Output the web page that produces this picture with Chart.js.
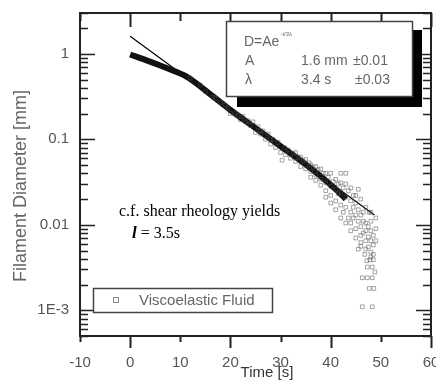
<!DOCTYPE html>
<html lang="en">
<head>
    <meta charset="UTF-8">
    <title>Filament Diameter vs Time</title>
    <script src="https://cdn.jsdelivr.net/npm/chart.js@4.4.0/dist/chart.umd.min.js"></script>
    <style>
        body { margin: 0; background: #fff; }
    </style>
</head>
<body>
    <canvas id="chart" width="436" height="381"></canvas>
    <script>

// dense part of the measured curve (reads as a thick black line)
const coreT = [0, 3, 6, 9, 11, 13, 16, 20, 25, 30, 35, 38, 41, 43];
const coreD = [0.98, 0.85, 0.73, 0.62, 0.55, 0.46, 0.335, 0.22, 0.135, 0.083, 0.051, 0.037, 0.026, 0.02];

// exponential fit D = A e^(-t/3λ), a straight line on the log axis
const fitT = [0, 48.7];
const fitD = [1.6, 0.013];

// scattered squares around / below the curve
const cloudT = [18, 19, 20, 21, 22, 22.5, 23, 24, 24.5, 25, 25.5, 26, 26.5, 27, 27.5, 28, 28.5, 29, 29.5, 30,
    30.3, 30.8, 31, 31.5, 32, 32.5, 33, 33.5, 34, 34.5, 35, 35.7, 36, 36.5, 37, 37.5, 38, 38.5,
    39, 39, 39.5, 40, 40, 40, 40.5, 41, 41, 41.5, 41.5, 42, 42, 42, 42.5, 42.5, 43, 43, 43,
    43.5, 43.5, 44, 44, 44, 44.5, 44.5, 44.5, 45, 45, 45, 45.5, 45.5, 45.5, 46, 46, 46,
    46.5, 46.5, 46.5, 47, 47, 47, 47.5, 47.5, 47.5, 48, 48, 48, 48, 48.5, 48.5, 48.5, 48.5,
    47.8, 47.3, 48.3, 46.3, 47.3, 48.3, 47.7, 48.6, 46.3, 48.3, 46, 47.7,
    33, 34, 35, 36, 36, 37, 37, 38, 38, 39, 39, 40, 41, 41, 42, 42, 43, 43, 44, 44,
    45, 45, 46, 46, 47, 47, 48, 48, 49, 49, 49, 48.8, 45.5, 46.8, 47.2,
    12, 14, 15, 16.5, 17, 19.5, 21.5, 23.5, 26, 28];
const cloudD = [0.27, 0.25, 0.2, 0.2, 0.17, 0.185, 0.16, 0.145, 0.16, 0.12, 0.14, 0.115, 0.125, 0.1, 0.115, 0.088, 0.1, 0.08, 0.092, 0.07,
    0.057, 0.08, 0.066, 0.075, 0.06, 0.068, 0.055, 0.062, 0.048, 0.056, 0.045, 0.053, 0.042, 0.047, 0.038, 0.044, 0.034, 0.04,
    0.031, 0.025, 0.036, 0.04, 0.028, 0.022, 0.032, 0.026, 0.019, 0.03, 0.023, 0.04, 0.024, 0.017, 0.027, 0.014, 0.04, 0.021, 0.016,
    0.025, 0.012, 0.019, 0.014, 0.0105, 0.022, 0.016, 0.012, 0.018, 0.013, 0.009, 0.026, 0.015, 0.011, 0.013, 0.0095, 0.0075,
    0.011, 0.008, 0.014, 0.0105, 0.0085, 0.0065, 0.0095, 0.0072, 0.0055, 0.011, 0.0085, 0.0065, 0.0048, 0.0075, 0.0058, 0.0045, 0.0039,
    0.0039, 0.0032, 0.0032, 0.0024, 0.0024, 0.0024, 0.0018, 0.0018, 0.0011, 0.0011, 0.0056, 0.014,
    0.07, 0.062, 0.058, 0.05, 0.036, 0.048, 0.033, 0.045, 0.029, 0.04, 0.021, 0.018, 0.034, 0.015, 0.031, 0.012, 0.03, 0.0105, 0.027, 0.0085,
    0.022, 0.007, 0.02, 0.0062, 0.016, 0.0052, 0.014, 0.0042, 0.012, 0.009, 0.0065, 0.0028, 0.0052, 0.0045, 0.0038,
    0.52, 0.43, 0.36, 0.31, 0.3, 0.235, 0.19, 0.165, 0.125, 0.1];

const xTicks = [-10, 0, 10, 20, 30, 40, 50, 60];
const yTicks = [0.001, 0.01, 0.1, 1];
const yTickLabels = ['1E-3', '0.01', '0.1', '1'];

const toPts = (xs, ys) => xs.map((x, i) => ({ x: x, y: ys[i] }));

const SANS = '"Liberation Sans", Arial, sans-serif';
const SERIF = '"Liberation Serif", "Times New Roman", serif';

// frame, tick marks, boxes and free text
const decorations = {
    id: 'decorations',
    afterDraw(chart) {
        const ctx = chart.ctx;
        const a = chart.chartArea;
        const xs = chart.scales.x;
        const ys = chart.scales.y;
        ctx.save();
        ctx.strokeStyle = '#222';
        ctx.lineWidth = 2;
        ctx.strokeRect(a.left, a.top, a.right - a.left, a.bottom - a.top);

        // x ticks: outward at bottom, inward at top
        ctx.lineWidth = 2;
        xTicks.forEach(v => {
            const px = Math.round(xs.getPixelForValue(v)) + 0.5;
            const len = v % 20 === 0 ? 12 : 6;
            ctx.beginPath();
            ctx.moveTo(px, a.bottom); ctx.lineTo(px, a.bottom + len);
            ctx.moveTo(px, a.top); ctx.lineTo(px, a.top + len + 2);
            ctx.stroke();
        });

        // y ticks: log minor ticks, inward on both sides
        ctx.lineWidth = 1.6;
        [1e-4, 1e-3, 1e-2, 1e-1, 1].forEach(d => {
            for (let m = 1; m <= 9; m++) {
                const v = m * d;
                if (v < ys.min || v > ys.max) continue;
                const py = Math.round(ys.getPixelForValue(v)) + 0.5;
                const len = m === 1 ? 15 : 8;
                ctx.beginPath();
                ctx.moveTo(a.left, py); ctx.lineTo(a.left + len, py);
                ctx.moveTo(a.right, py); ctx.lineTo(a.right - len, py);
                ctx.stroke();
            }
        });

        // fit box with black drop shadow
        ctx.fillStyle = '#000';
        ctx.fillRect(237, 30, 185, 77);
        ctx.fillStyle = '#fff';
        ctx.fillRect(226, 21, 186, 76);
        ctx.strokeStyle = '#444';
        ctx.lineWidth = 1.5;
        ctx.strokeRect(226.5, 21.5, 186, 75);

        ctx.fillStyle = '#666';
        ctx.textBaseline = 'middle';
        ctx.textAlign = 'left';
        ctx.font = '14px ' + SANS;
        ctx.fillText('D=Ae', 244, 42);
        const w = ctx.measureText('D=Ae').width;
        ctx.font = '6px ' + SANS;
        ctx.fillText('-t/3λ', 244 + w + 1, 34);
        ctx.font = '14px ' + SANS;
        ctx.fillText('A', 245, 61);
        ctx.fillText('1.6 mm', 301, 61);
        ctx.fillText('±0.01', 353, 61);
        ctx.fillText('λ', 245, 80);
        ctx.fillText('3.4 s', 301, 80);
        ctx.fillText('±0.03', 355, 80);

        // legend box
        ctx.fillStyle = '#fff';
        ctx.fillRect(93, 288, 180, 25);
        ctx.strokeStyle = '#444';
        ctx.lineWidth = 1.5;
        ctx.strokeRect(93.5, 288.5, 179, 24);
        ctx.strokeStyle = '#888';
        ctx.lineWidth = 1;
        ctx.strokeRect(113.5, 297.5, 5, 5);
        ctx.fillStyle = '#666';
        ctx.font = '15px ' + SANS;
        ctx.fillText('Viscoelastic Fluid', 139, 301);

        // annotation
        ctx.fillStyle = '#000';
        ctx.font = '16px ' + SERIF;
        ctx.fillText('c.f. shear rheology yields', 119, 212);
        ctx.font = 'italic bold 17px ' + SERIF;
        ctx.fillText('l', 132, 234);
        const lw = ctx.measureText('l').width;
        ctx.font = '16px ' + SERIF;
        ctx.fillText(' = 3.5s', 132 + lw, 234);

        // axis titles
        ctx.fillStyle = '#333';
        ctx.font = '15px ' + SANS;
        ctx.textAlign = 'center';
        ctx.fillText('Time [s]', 267, 373);
        ctx.save();
        ctx.translate(21, 186);
        ctx.rotate(-Math.PI / 2);
        ctx.fillStyle = '#666';
        ctx.font = '18px ' + SANS;
        ctx.fillText('Filament Diameter [mm]', 0, 0);
        ctx.restore();
        ctx.restore();
    }
};

window.addEventListener('load', setup);

function setup() {
    const ctx = document.getElementById('chart').getContext('2d');
    new Chart(ctx, {
        type: 'scatter',
        data: {
            datasets: [{
                label: 'Viscoelastic Fluid',
                data: toPts(cloudT, cloudD),
                pointStyle: 'rect',
                pointRadius: 2.6,
                borderWidth: 1,
                borderColor: 'rgba(80, 80, 80, 0.5)',
                backgroundColor: 'rgba(0, 0, 0, 0)',
                showLine: false
            }, {
                label: 'core',
                data: toPts(coreT, coreD),
                showLine: true,
                borderColor: '#111',
                borderWidth: 6,
                pointRadius: 0,
                tension: 0.3,
                fill: false
            }, {
                label: 'fit',
                data: toPts(fitT, fitD),
                showLine: true,
                borderColor: '#000',
                borderWidth: 1.2,
                pointRadius: 0,
                fill: false
            }]
        },
        options: {
            responsive: false,
            animation: false,
            devicePixelRatio: 1,
            layout: { padding: { top: 13, right: 4, left: 0, bottom: 0 } },
            plugins: { legend: { display: false }, tooltip: { enabled: false } },
            scales: {
                x: {
                    type: 'linear',
                    min: -10,
                    max: 60,
                    grid: { display: false, drawTicks: false },
                    border: { display: false },
                    afterBuildTicks: s => { s.ticks = xTicks.map(v => ({ value: v })); },
                    afterFit: s => { s.height = 45; s.paddingLeft = 0; s.paddingRight = 0; },
                    ticks: {
                        padding: 18,
                        color: '#555',
                        font: { family: SANS, size: 15 },
                        maxRotation: 0,
                        callback: v => String(v)
                    }
                },
                y: {
                    type: 'logarithmic',
                    min: 0.0005,
                    max: 3,
                    grid: { display: false, drawTicks: false },
                    border: { display: false },
                    afterBuildTicks: s => { s.ticks = yTicks.map(v => ({ value: v })); },
                    afterFit: s => { s.width = 80; s.paddingTop = 0; s.paddingBottom = 0; },
                    ticks: {
                        padding: 11,
                        color: '#555',
                        font: { family: SANS, size: 15 },
                        callback: v => yTickLabels[yTicks.indexOf(v)]
                    }
                }
            }
        },
        plugins: [decorations]
    });
}
    </script>
</body>
</html>
